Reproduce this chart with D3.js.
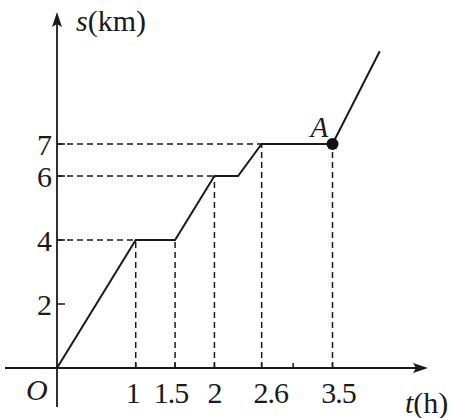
<!DOCTYPE html>
<html><head><meta charset="utf-8">
<script src="https://cdn.jsdelivr.net/npm/d3@7"></script>
<style>body{margin:0;background:#fff}svg{display:block}</style>
</head><body><svg id="c" width="455" height="418"></svg>
<script>
// data
const times = [0, 1, 1.5, 2, 2.3, 2.6, 3.5, 4.1];
const dist  = [0, 4, 4, 6, 6, 7, 7, 9.9];
const xTickVals = [1, 1.5, 2, 2.6, 3, 3.5];
const xTickLabels = ["1", "1.5", "2", "2.6", "", "3.5"];
const yTickVals = [2, 4, 6, 7];
const yTickLabels = ["2", "4", "6", "7"];
const guidePoints = [[1,4],[1.5,4],[2,6],[2.6,7],[3.5,7]];
const pointA = [3.5, 7];

const FONT = "Liberation Serif";
const svg = d3.select("#c");
const x = d3.scaleLinear().domain([0, 3.5]).range([57, 332.5]);
const y = d3.scaleLinear().domain([0, 7]).range([368, 144]);
const ink = "#1a1a1a";
const x0 = x(0), y0 = y(0);

function txt(xp, yp, size) {
  return svg.append("text").attr("x", xp).attr("y", yp).attr("font-size", size)
    .attr("font-family", FONT).attr("fill", ink);
}

// dashed guides
const dash = "6,4";
guidePoints.forEach(([t, s]) => {
  svg.append("line").attr("x1", x(t)).attr("x2", x(t)).attr("y1", y0).attr("y2", y(s))
    .attr("stroke", ink).attr("stroke-width", 1.5).attr("stroke-dasharray", dash);
});
[[1,4],[2,6],[2.6,7]].forEach(([t, s]) => {
  svg.append("line").attr("x1", x0).attr("x2", x(t)).attr("y1", y(s)).attr("y2", y(s))
    .attr("stroke", ink).attr("stroke-width", 1.5).attr("stroke-dasharray", dash);
});

// axes
svg.append("line").attr("x1", 5).attr("x2", 420).attr("y1", y0).attr("y2", y0)
  .attr("stroke", ink).attr("stroke-width", 1.8);
svg.append("path").attr("d", `M428,${y0} L413,${y0-5} L416,${y0} L413,${y0+5} Z`).attr("fill", ink);
svg.append("line").attr("x1", x0).attr("x2", x0).attr("y1", 407).attr("y2", 20)
  .attr("stroke", ink).attr("stroke-width", 1.8);
svg.append("path").attr("d", `M${x0},12 L${x0-5},27 L${x0},24 L${x0+5},27 Z`).attr("fill", ink);

// ticks
xTickVals.forEach(v => {
  svg.append("line").attr("x1", x(v)).attr("x2", x(v)).attr("y1", y0).attr("y2", y0 - 5)
    .attr("stroke", ink).attr("stroke-width", 1.5);
});
yTickVals.forEach(v => {
  svg.append("line").attr("x1", x0).attr("x2", x0 + 8).attr("y1", y(v)).attr("y2", y(v))
    .attr("stroke", ink).attr("stroke-width", 1.5);
});

// tick labels
const xLabelShift = {"1": -3, "1.5": -4, "2": 0, "2.6": 9, "3.5": 6};
xTickVals.forEach((v, i) => {
  if (!xTickLabels[i]) return;
  txt(x(v) + (xLabelShift[xTickLabels[i]] || 0), 403, 30)
    .attr("text-anchor", "middle").attr("letter-spacing", -1)
    .text(xTickLabels[i]);
});
yTickVals.forEach((v, i) => {
  txt(52, y(v) + 11, 30).attr("text-anchor", "end").text(yTickLabels[i]);
});

// axis titles
const st = txt(76, 31, 30);
st.append("tspan").attr("font-style", "italic").text("s");
st.append("tspan").text("(km)");
const tt = txt(405, 413, 30);
tt.append("tspan").attr("font-style", "italic").text("t");
tt.append("tspan").text("(h)");
txt(26, 400, 30).attr("font-style", "italic").text("O");

// main line
const line = d3.line().x(d => x(d[0])).y(d => y(d[1]));
svg.append("path").datum(times.map((t, i) => [t, dist[i]])).attr("d", line)
  .attr("fill", "none").attr("stroke", ink).attr("stroke-width", 2).attr("stroke-linejoin", "miter");

// point A
svg.append("circle").attr("cx", x(pointA[0])).attr("cy", y(pointA[1])).attr("r", 6).attr("fill", "#111");
txt(x(pointA[0]) - 22, y(pointA[1]) - 7, 29).attr("font-style", "italic").text("A");
</script></body></html>
